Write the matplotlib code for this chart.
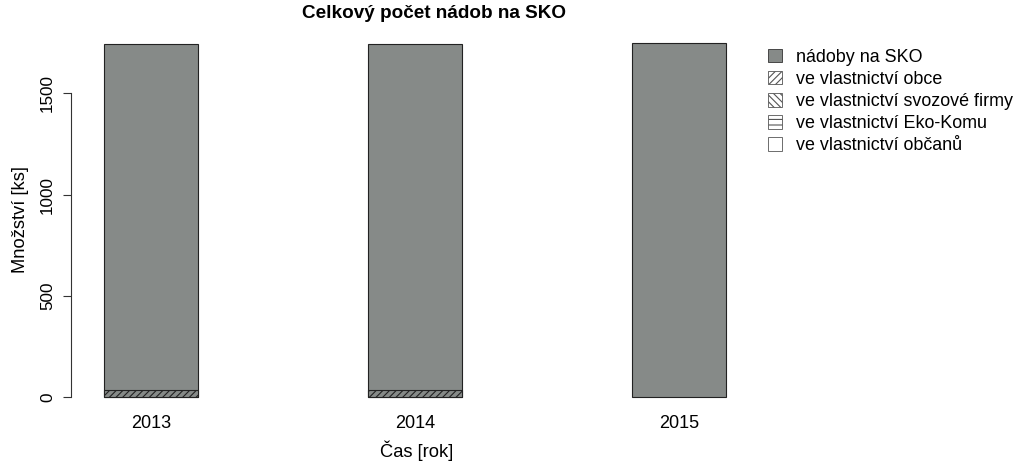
import matplotlib.pyplot as plt
import matplotlib.patches as mpatches
import numpy as np

plt.rcParams["font.family"] = ["Liberation Sans", "DejaVu Sans"]
plt.rcParams["hatch.color"] = "#404040"
plt.rcParams["hatch.linewidth"] = 0.8

years = ["2013", "2014", "2015"]
total = [1743, 1743, 1746]
obce = [35, 35, 0]
svoz = [0, 0, 0]
ekokom = [0, 0, 0]
obcane = [0, 0, 0]

labels = [
    "nádoby na SKO",
    "ve vlastnictví obce",
    "ve vlastnictví svozové firmy",
    "ve vlastnictví Eko-Komu",
    "ve vlastnictví občanů",
]
gray = "#868a88"

W, H = 1024, 473
fig = plt.figure(figsize=(W / 100, H / 100), dpi=100)
# axes placed in pixel terms
left, right, top, bottom = 71, 740, 35, 397.3
ax = fig.add_axes([left / W, 1 - bottom / H, (right - left) / W, (bottom - top) / H])

x = np.arange(len(years))
width = 0.357
ax.bar(x, total, width, color=gray, edgecolor="#222222", linewidth=0.8, clip_on=False)
b = np.zeros(len(years))
for vals, hatch, fc in [
    (obce, "/////", gray),
    (svoz, "\\\\\\\\\\", gray),
    (ekokom, "---", gray),
    (obcane, "", "white"),
]:
    vals = np.array(vals, dtype=float)
    mask = vals > 0
    if mask.any():
        ax.bar(x[mask], vals[mask], width, bottom=b[mask], color=fc,
               hatch=hatch, edgecolor="#222222", linewidth=0.8, clip_on=False)
    b += vals

# pixel mapping: x -> 151 + 264*i, y -> 397.3 - 0.2027*v
ax.set_xlim((left - 151) / 264, (right - 151) / 264)
ax.set_ylim((397.3 - bottom) / 0.2027, (397.3 - top) / 0.2027)

for s in ["top", "right", "bottom"]:
    ax.spines[s].set_visible(False)
ax.spines["left"].set_bounds(0, 1500)
ax.spines["left"].set_color("#333333")
ax.set_yticks([0, 500, 1000, 1500])
ax.set_yticklabels(["0", "500", "1000", "1500"], rotation=90, va="center")
ax.tick_params(axis="y", length=5.5, pad=6, labelsize=12.3, color="#333333")
ax.set_xticks(x)
ax.set_xticklabels(years)
ax.tick_params(axis="x", length=0, pad=12.5, labelsize=13)

ax.set_ylabel("Množství [ks]", fontsize=13.2, va="center")
ax.yaxis.set_label_coords((21 - left) / (right - left), (bottom - 220) / (bottom - top))
ax.set_xlabel("Čas [rok]", fontsize=13.2, va="center")
ax.xaxis.set_label_coords((417 - left) / (right - left), (bottom - 451) / (bottom - top))
ax.set_title("Celkový počet nádob na SKO", fontsize=13.6, fontweight="bold",
             x=(434 - left) / (right - left), y=1 + (top - 22) / (bottom - top), va="center")

handles = [
    mpatches.Patch(facecolor=gray, edgecolor="#333333", linewidth=0.6),
    mpatches.Patch(facecolor="white", edgecolor="#555555", hatch="/////", linewidth=0.6),
    mpatches.Patch(facecolor="white", edgecolor="#555555", hatch="\\\\\\\\\\", linewidth=0.6),
    mpatches.Patch(facecolor="white", edgecolor="#555555", hatch="---", linewidth=0.6),
    mpatches.Patch(facecolor="white", edgecolor="#555555", linewidth=0.6),
]
fig.legend(handles, labels, loc="upper left", bbox_to_anchor=(761 / W, 1 - 42 / H),
           frameon=False, fontsize=12.9, handlelength=0.75, handleheight=0.75,
           handletextpad=0.8, labelspacing=0.28, borderaxespad=0)

fig.savefig("out.png", dpi=100)
